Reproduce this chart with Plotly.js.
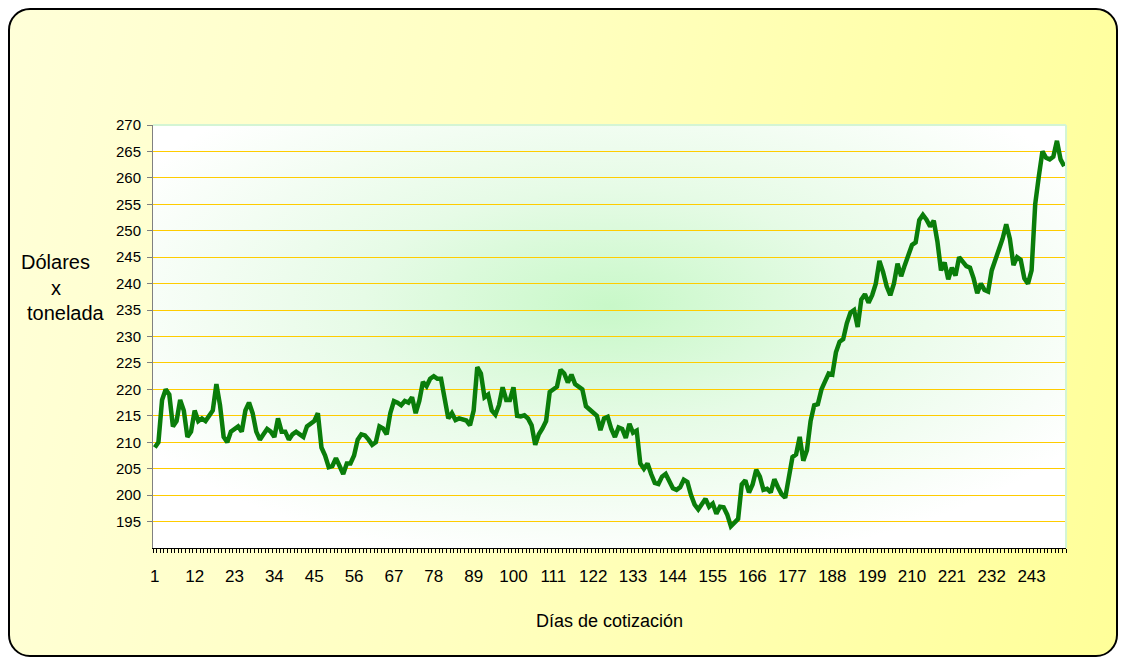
<!DOCTYPE html>
<html>
<head>
<meta charset="utf-8">
<script src="https://cdn.plot.ly/plotly-3.0.1.min.js"></script>
<style>
  html, body { margin:0; padding:0; background:#ffffff; }
  #wrap { position:relative; width:1121px; height:659px; overflow:hidden; }
  #frame { position:absolute; left:8px; top:8px; width:1106px; height:645px;
    border:2px solid #000; border-radius:22px;
    background: linear-gradient(100deg, #ffffd8 0%, #ffffc0 45%, #ffff99 100%); }
  #plotbg { position:absolute; left:153px; top:125px; width:913px; height:423px;
    background: radial-gradient(ellipse 60% 62% at 50% 43%, #c8f8c8 0%, #e6fbe6 45%, #ffffff 100%); }
  #chart { position:absolute; left:0; top:0; width:1121px; height:659px; }
</style>
</head>
<body>
<div id="wrap">
  <div id="frame"></div>
  <div id="plotbg"></div>
  <div id="chart"></div>
</div>
<script>
const precios = [
  209, 210, 218, 220, 219, 213, 214, 218, 216, 211,
  212, 216, 214, 214.5, 214, 215, 216, 221, 217, 211,
  210, 212, 212.5, 213, 212, 216, 217.5, 215.5, 212, 210.5,
  211.5, 212.5, 212, 211, 214.5, 212, 212, 210.5, 211.5, 212,
  211.5, 211, 213, 213.5, 214, 215.5, 209, 207.5, 205.3, 205.5,
  207, 205.5, 204, 206, 206, 207.5, 210.5, 211.5, 211.3, 210.5,
  209.5, 210, 213, 212.6, 211.5, 215.5, 217.8, 217.5, 217, 217.8,
  217.5, 218.5, 215.5, 217.8, 221.4, 220.6, 222, 222.5, 222, 222,
  218, 214.5, 215.5, 214.2, 214.5, 214.3, 214.1, 213.2, 216, 224.2,
  223, 218.5, 219, 216, 215.2, 217, 220.4, 218, 218, 220.4,
  215, 214.9, 215.1, 214.5, 213.2, 209.5, 211.5, 212.6, 214, 219.5,
  220, 220.5, 223.7, 223, 221.3, 222.8, 221, 220.5, 220, 216.8,
  216.2, 215.8, 215, 212.3, 214.5, 214.8, 212.5, 211, 212.8, 212.5,
  210.8, 213.5, 211.8, 212.2, 206, 205, 206, 204, 202.3, 202.1,
  203.5, 204, 202.6, 201.3, 201, 201.5, 202.9, 202.5, 200, 198.2,
  197.3, 198.5, 199.3, 197.8, 198.4, 196.5, 197.8, 197.7, 196.3, 194.1,
  194.7, 195.5, 202, 202.8, 200.5, 202, 204.8, 203.5, 201, 201.2,
  200.5, 203, 201.5, 200.2, 199.5, 203.4, 207.2, 207.7, 211, 206.5,
  208.5, 214, 217, 217.2, 220, 221.5, 223, 222.8, 227, 229,
  229.5, 232.5, 234.5, 235, 231.8, 237, 238, 236.4, 237.8, 240,
  244.3, 242.2, 239.5, 237.8, 240, 243.8, 241.4, 243.5, 245.5, 247.3,
  247.8, 252, 253, 252.1, 250.8, 251.9, 248, 242.5, 244, 240.8,
  243, 241.5, 245, 244.2, 243.3, 243, 241, 238.2, 240, 238.8,
  238.5, 242.5, 244.8, 246.5, 248.5, 251.2, 248.5, 243.5, 245, 244.5,
  241, 240, 242.5, 255, 260.3, 265, 263.8, 263.5, 264, 267,
  263.5, 262.2
];
const dias = precios.map((_, i) => i + 1);
const etiquetasX = [1, 12, 23, 34, 45, 56, 67, 78, 89, 100, 111, 122, 133, 144, 155, 166, 177, 188, 199, 210, 221, 232, 243];
const etiquetasY = [195, 200, 205, 210, 215, 220, 225, 230, 235, 240, 245, 250, 255, 260, 265, 270];
const tituloY = ['Dólares', 'x', 'tonelada'];

const FONT = 'Liberation Sans, Arial, sans-serif';
const PL = 153, PW = 913, PB = 548, PH = 423;
const px2x = p => (p - PL) / PW;
const px2y = p => (PB - p) / PH;
const tituloPos = [[55.5, 262], [56, 288], [66, 313]];

const trace = {
  x: dias, y: precios, type: 'scatter', mode: 'lines',
  line: { color: '#0a7d0a', width: 4.5 },
  hoverinfo: 'x+y'
};

const layout = {
  width: 1121, height: 659,
  paper_bgcolor: 'rgba(0,0,0,0)', plot_bgcolor: 'rgba(0,0,0,0)',
  margin: { l: 153, r: 55, t: 125, b: 111, pad: 0 },
  showlegend: false,
  font: { family: FONT, color: '#000' },
  xaxis: {
    range: [0.5, dias.length + 0.5],
    tickmode: 'array', tickvals: etiquetasX, ticktext: etiquetasX.map(String),
    ticks: '', showgrid: false, zeroline: false,
    showline: true, linecolor: '#000', linewidth: 1,
    tickfont: { size: 17, family: FONT },
    ticklabelstandoff: 13,
    minor: { tickmode: 'linear', tick0: 0.5, dtick: 1, ticks: 'outside', ticklen: 4, tickcolor: '#000', tickwidth: 1, showgrid: false },
    title: { text: 'Días de cotización', font: { size: 18 }, standoff: 28 },
    fixedrange: true
  },
  yaxis: {
    range: [190, 270],
    tickmode: 'array', tickvals: etiquetasY, ticktext: etiquetasY.map(String),
    ticks: 'outside', ticklen: 5, tickcolor: '#808080', tickwidth: 1,
    showgrid: true, gridcolor: '#ffcc00', gridwidth: 1,
    zeroline: false, showline: true, linecolor: '#808080', linewidth: 1,
    tickfont: { size: 15, family: FONT },
    ticklabelstandoff: 3,
    fixedrange: true
  },
  shapes: [
    { type: 'line', xref: 'paper', yref: 'paper', x0: 0, x1: 1, y0: 1, y1: 1, line: { color: '#d4f5d4', width: 2 } },
    { type: 'line', xref: 'paper', yref: 'paper', x0: 1, x1: 1, y0: 0, y1: 1, line: { color: '#d4f5d4', width: 2 } }
  ],
  annotations: tituloY.map((t, i) => ({
    xref: 'paper', yref: 'paper', x: px2x(tituloPos[i][0]), y: px2y(tituloPos[i][1]),
    xanchor: 'center', yanchor: 'middle', text: t, showarrow: false,
    font: { size: 20, family: FONT, color: '#000' }
  }))
};

Plotly.newPlot('chart', [trace], layout, { displayModeBar: false });
</script>
</body>
</html>
